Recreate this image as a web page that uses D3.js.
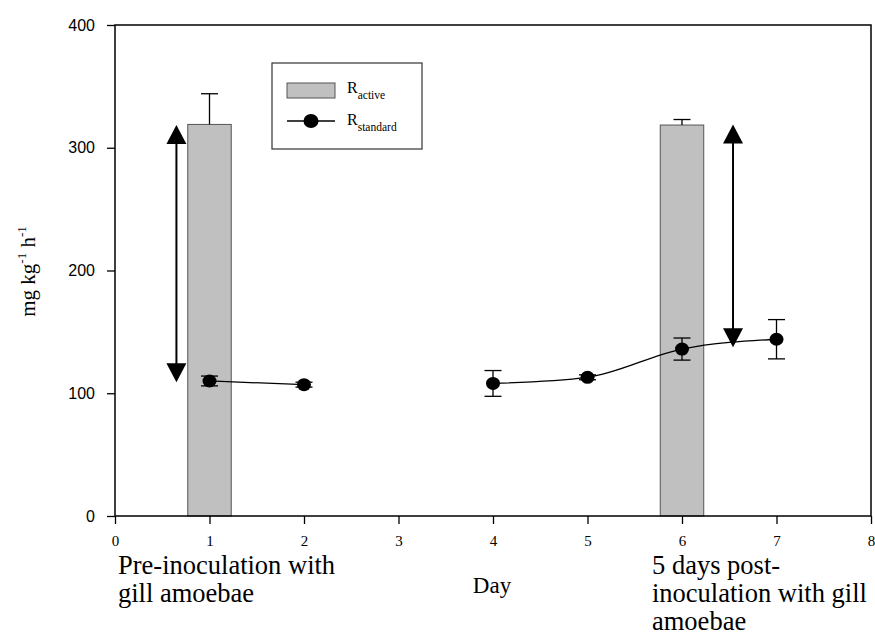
<!DOCTYPE html>
<html>
<head>
<meta charset="utf-8">
<script src="https://cdn.jsdelivr.net/npm/d3@7"></script>
<style>
  body { margin: 0; background: #fff; }
  svg { display: block; }
</style>
</head>
<body>
<div id="chart"></div>
<script>
const days = [1, 2, 4, 5, 6, 7];
const rStandard = [110, 107, 108, 113, 136, 144];
const rStandardErr = [4, 2, 10.5, 2, 9, 16];
// line gap between day 2 and day 4
const segments = [[0, 1], [2, 3, 4, 5]];

const barDays = [1, 6];
const rActive = [319, 318.5];
const rActiveErr = [25, 4.5];

const arrowDays = [0.65, 6.54];
const arrowLow = [109, 137.5];
const arrowHigh = [318.5, 319];

const xTicks = [0, 1, 2, 3, 4, 5, 6, 7, 8];
const yTicks = [0, 100, 200, 300, 400];

const width = 875, height = 637;
const margin = { top: 25, right: 4, bottom: 121, left: 115 };

const svg = d3.select("#chart").append("svg")
    .attr("width", width)
    .attr("height", height);

const x = d3.scaleLinear().domain([0, 8]).range([margin.left, width - margin.right]);
const y = d3.scaleLinear().domain([0, 400]).range([height - margin.bottom, margin.top]);

const serif = "'Liberation Serif', 'Times New Roman', serif";
const sans = "'Liberation Sans', Arial, sans-serif";

// bars
const barW = x(0.46) - x(0);
svg.append("g").selectAll("rect")
    .data(barDays)
    .join("rect")
    .attr("x", (d) => x(d) - barW / 2)
    .attr("y", (d, i) => y(rActive[i]))
    .attr("width", barW)
    .attr("height", (d, i) => y(0) - y(rActive[i]))
    .attr("fill", "#c0c0c0")
    .attr("stroke", "#555")
    .attr("stroke-width", 1);

// bar error bars (upper only)
const capW = 17;
const barErr = svg.append("g").attr("stroke", "#000").attr("stroke-width", 1.3);
barDays.forEach((d, i) => {
    barErr.append("line")
        .attr("x1", x(d)).attr("x2", x(d))
        .attr("y1", y(rActive[i])).attr("y2", y(rActive[i] + rActiveErr[i]));
    barErr.append("line")
        .attr("x1", x(d) - capW / 2).attr("x2", x(d) + capW / 2)
        .attr("y1", y(rActive[i] + rActiveErr[i])).attr("y2", y(rActive[i] + rActiveErr[i]));
});

// R standard line
const line = d3.line()
    .x((i) => x(days[i]))
    .y((i) => y(rStandard[i]))
    .curve(d3.curveMonotoneX);
svg.append("g").selectAll("path")
    .data(segments)
    .join("path")
    .attr("d", line)
    .attr("fill", "none")
    .attr("stroke", "#000")
    .attr("stroke-width", 1.3);

// point error bars
const ptErr = svg.append("g").attr("stroke", "#000").attr("stroke-width", 1.3);
days.forEach((d, i) => {
    const lo = y(rStandard[i] - rStandardErr[i]);
    const hi = y(rStandard[i] + rStandardErr[i]);
    ptErr.append("line").attr("x1", x(d)).attr("x2", x(d)).attr("y1", lo).attr("y2", hi);
    ptErr.append("line").attr("x1", x(d) - capW / 2).attr("x2", x(d) + capW / 2).attr("y1", lo).attr("y2", lo);
    ptErr.append("line").attr("x1", x(d) - capW / 2).attr("x2", x(d) + capW / 2).attr("y1", hi).attr("y2", hi);
});

svg.append("g").selectAll("ellipse")
    .data(days)
    .join("ellipse")
    .attr("cx", (d) => x(d))
    .attr("cy", (d, i) => y(rStandard[i]))
    .attr("rx", 7)
    .attr("ry", 6.5)
    .attr("fill", "#000");

// double-headed arrows
const headW = 10, headH = 19;
const arrows = svg.append("g");
arrowDays.forEach((d, i) => {
    const ax = x(d), top = y(arrowHigh[i]), bot = y(arrowLow[i]);
    arrows.append("line")
        .attr("x1", ax).attr("x2", ax)
        .attr("y1", top + headH - 1).attr("y2", bot - headH + 1)
        .attr("stroke", "#000").attr("stroke-width", 2);
    arrows.append("path")
        .attr("d", `M${ax},${top} L${ax - headW},${top + headH} L${ax + headW},${top + headH} Z`)
        .attr("fill", "#000");
    arrows.append("path")
        .attr("d", `M${ax},${bot} L${ax - headW},${bot - headH} L${ax + headW},${bot - headH} Z`)
        .attr("fill", "#000");
});

// frame
svg.append("rect")
    .attr("x", x(0)).attr("y", y(400))
    .attr("width", x(8) - x(0)).attr("height", y(0) - y(400))
    .attr("fill", "none").attr("stroke", "#000").attr("stroke-width", 1.5);

// axes
const xAxis = svg.append("g")
    .attr("transform", `translate(0,${y(0)})`)
    .call(d3.axisBottom(x).tickValues(xTicks).tickSize(8).tickPadding(11).tickFormat(d3.format("d")));
xAxis.select(".domain").remove();
xAxis.selectAll("line").attr("stroke-width", 1.3);
xAxis.selectAll("text").attr("font-family", serif).attr("font-size", 15).attr("fill", "#000");

const yAxis = svg.append("g")
    .attr("transform", `translate(${x(0)},0)`)
    .call(d3.axisLeft(y).tickValues(yTicks).tickSize(8).tickPadding(12).tickFormat(d3.format("d")));
yAxis.select(".domain").remove();
yAxis.selectAll("line").attr("stroke-width", 1.3);
yAxis.selectAll("text").attr("font-family", sans).attr("font-size", 16).attr("fill", "#000");

// axis titles
svg.append("text")
    .attr("x", 492).attr("y", 593)
    .attr("text-anchor", "middle")
    .attr("font-family", serif).attr("font-size", 23)
    .text("Day");

const yTitle = svg.append("text")
    .attr("transform", `translate(35,${(y(0) + y(400)) / 2 + 1}) rotate(-90)`)
    .attr("text-anchor", "middle")
    .attr("font-family", serif).attr("font-size", 21);
yTitle.append("tspan").text("mg kg");
yTitle.append("tspan").attr("dy", -9).attr("font-size", 13).text("-1");
yTitle.append("tspan").attr("dy", 9).text(" h");
yTitle.append("tspan").attr("dy", -9).attr("font-size", 13).text("-1");

// phase annotations
const notes = [
    { x: 118, lines: ["Pre-inoculation with", "gill amoebae"] },
    { x: 652, lines: ["5 days post-", "inoculation with gill", "amoebae"] }
];
notes.forEach((n) => {
    const t = svg.append("text")
        .attr("font-family", serif).attr("font-size", 26.5);
    n.lines.forEach((l, i) => {
        t.append("tspan").attr("x", n.x).attr("y", 574 + i * 28).text(l);
    });
});

// legend
const lg = svg.append("g");
lg.append("rect")
    .attr("x", 272).attr("y", 63).attr("width", 150).attr("height", 86)
    .attr("fill", "#fff").attr("stroke", "#333").attr("stroke-width", 1.2);
lg.append("rect")
    .attr("x", 287).attr("y", 83).attr("width", 48).attr("height", 15)
    .attr("fill", "#c0c0c0").attr("stroke", "#555");
lg.append("line")
    .attr("x1", 287).attr("x2", 335).attr("y1", 121).attr("y2", 121)
    .attr("stroke", "#000").attr("stroke-width", 1.3);
lg.append("ellipse")
    .attr("cx", 311).attr("cy", 121).attr("rx", 7.5).attr("ry", 7)
    .attr("fill", "#000");
const legendItems = [["active", 93], ["standard", 125]];
legendItems.forEach(([sub, yy]) => {
    const t = lg.append("text")
        .attr("x", 347).attr("y", yy)
        .attr("font-family", serif).attr("font-size", 16);
    t.append("tspan").text("R");
    t.append("tspan").attr("dy", 6).attr("font-size", 11.5).text(sub);
});
</script>
</body>
</html>
